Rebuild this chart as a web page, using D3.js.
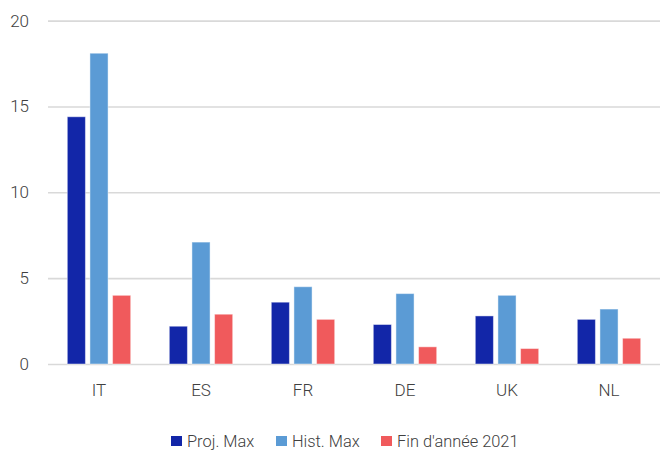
<!DOCTYPE html>
<html>
<head>
<meta charset="utf-8">
<script src="https://cdn.jsdelivr.net/npm/d3@7"></script>
<style>
  html, body { margin: 0; padding: 0; background: #fff; }
  svg text { font-family: Roboto, "Open Sans", sans-serif; font-weight: 300; fill: #404040; }
</style>
</head>
<body>
<svg id="chart" width="666" height="450"></svg>
<script>
const categories = ["IT", "ES", "FR", "DE", "UK", "NL"];
const seriesNames = ["Proj. Max", "Hist. Max", "Fin d'année 2021"];
const projMax = [14.4, 2.2, 3.6, 2.3, 2.8, 2.6];
const histMax = [18.1, 7.1, 4.5, 4.1, 4.0, 3.2];
const finAnnee2021 = [4.0, 2.9, 2.6, 1.0, 0.9, 1.5];
const yTicks = [0, 5, 10, 15, 20];
const colors = ["#1226a8", "#5b9bd5", "#f05a5c"];

const seriesValues = [projMax, histMax, finAnnee2021];

const svg = d3.select("#chart");
const plotLeft = 48, plotRight = 660, plotTop = 20.6, plotBottom = 364;

const x0 = d3.scaleBand().domain(categories).range([plotLeft, plotRight]);
const groupWidth = 63.4;
const x1 = d3.scaleBand().domain(seriesNames)
  .range([(x0.bandwidth() - groupWidth) / 2, (x0.bandwidth() + groupWidth) / 2])
  .paddingInner(0.2);
const y = d3.scaleLinear().domain([0, 20]).range([plotBottom, plotTop]);

// Horizontal gridlines and value labels
const yAxis = d3.axisLeft(y).tickValues(yTicks).tickSize(-(plotRight - plotLeft)).tickPadding(19);
const gy = svg.append("g").attr("transform", `translate(${plotLeft},0)`).call(yAxis);
gy.select(".domain").remove();
gy.selectAll(".tick line").attr("stroke", "#d9d9d9").attr("stroke-width", 1.6);
gy.selectAll(".tick text").attr("font-size", 17).style("fill", "#404040");

// Category labels
const xAxis = d3.axisBottom(x0).tickSize(0).tickPadding(20);
const gx = svg.append("g").attr("transform", `translate(0,${plotBottom})`).call(xAxis);
gx.select(".domain").remove();
gx.selectAll(".tick text").attr("font-size", 17).style("fill", "#404040");

// Bars
const groups = svg.append("g").selectAll("g")
  .data(categories)
  .join("g")
  .attr("transform", d => `translate(${x0(d)},0)`);

groups.selectAll("rect")
  .data((c, i) => seriesNames.map((s, k) => ({ s, k, v: seriesValues[k][i] })))
  .join("rect")
  .attr("x", d => x1(d.s))
  .attr("width", x1.bandwidth())
  .attr("y", d => y(d.v))
  .attr("height", d => y(0) - y(d.v))
  .attr("fill", d => colors[d.k])
  .attr("stroke", "rgba(255,255,255,0.45)")
  .attr("stroke-width", 1);

// Legend
const legendX = [171, 276, 381];
const legend = svg.append("g").selectAll("g")
  .data(seriesNames)
  .join("g")
  .attr("transform", (d, i) => `translate(${legendX[i]},436)`);
legend.append("rect").attr("width", 11).attr("height", 10).attr("fill", (d, i) => colors[i]);
legend.append("text").attr("x", 16).attr("y", 5).attr("dy", "0.36em")
  .attr("font-size", 16.4).text(d => d);
</script>
</body>
</html>
